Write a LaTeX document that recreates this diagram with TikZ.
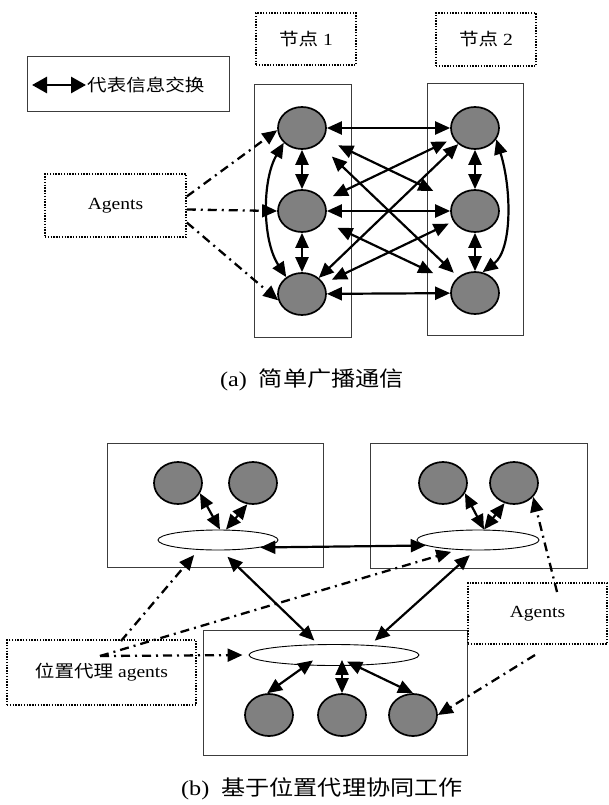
\documentclass[tikz,border=0pt]{standalone}
\usepackage{fontspec}
\setmainfont{Liberation Serif}[FakeStretch=1.15]
\newfontfamily\cjk{Noto Sans CJK SC}[FakeStretch=1.15]
\usetikzlibrary{arrows.meta,shapes.geometric,calc}
\definecolor{agentgray}{RGB}{128,128,128}
\definecolor{boxline}{RGB}{60,60,60}
\tikzset{
  bigtip/.tip={Triangle[length=15pt,width=13pt]},
  dbl/.style={bigtip-bigtip, line width=2.2pt},
  legarrow/.style={{Triangle[length=15pt,width=16pt]}-{Triangle[length=15pt,width=16pt]}, line width=2.8pt},
  agarrow/.style={-bigtip, line width=2.3pt, dash pattern=on 9pt off 5pt on 2pt off 5pt},
  dotbox/.style={draw, line width=1.5pt, dash pattern=on 1.4pt off 1.4pt, inner sep=0},
  plainbox/.style={draw=boxline, line width=0.9pt, inner sep=0},
  agent/.style={ellipse, draw, line width=1.7pt, fill=agentgray, minimum width=48pt, minimum height=42pt, inner sep=0},
  hub/.style={ellipse, draw, line width=0.9pt, fill=white, inner sep=0},
  lbl/.style={font=\fontsize{17}{20}\selectfont},
  captext/.style={font=\fontsize{21}{24}\selectfont, inner sep=0},
}
\begin{document}
\begin{tikzpicture}[x=1pt,y=-1pt]
\useasboundingbox[fill=white] (0,0) rectangle (608,805);

% ---------------- (a) ----------------
\node[dotbox, lbl, minimum width=100pt, minimum height=52pt] (lab1) at (306,39) {{\cjk 节点} 1};
\node[dotbox, lbl, minimum width=100pt, minimum height=53pt] (lab2) at (486,39.5) {{\cjk 节点} 2};

\node[plainbox, minimum width=202pt, minimum height=55pt] (legend) at (128,83.5) {};
\coordinate (legA) at (32,85);
\coordinate (legB) at (86,85);
\draw[legarrow] (legA) -- (legB);
\node[lbl, anchor=west, inner sep=0] (legtxt) at (87,85) {\cjk 代表信息交换};

\node[plainbox, minimum width=97pt, minimum height=253pt] (n1) at (302.5,210.5) {};
\node[plainbox, minimum width=96pt, minimum height=252pt] (n2) at (475,209) {};

\node[agent] (l1) at (302,128) {};
\node[agent] (l2) at (302,211) {};
\node[agent] (l3) at (302,294) {};
\node[agent] (r1) at (475,128) {};
\node[agent] (r2) at (475,211) {};
\node[agent] (r3) at (475,293) {};

\node[dotbox, lbl, minimum width=141pt, minimum height=63pt] (ag1) at (115.5,205.5) {Agents};

\draw[agarrow] ([yshift=9pt]ag1.east) -- (l1.185);
\draw[agarrow] ([yshift=-4pt]ag1.east) -- (l2.west);
\draw[agarrow] ([yshift=-17pt]ag1.east) -- (l3.195);

\draw[dbl] (l1) -- (r1);
\draw[dbl] (l2) -- (r2);
\draw[dbl] (l3) -- (r3);
\draw[dbl] (l1) -- (l2);
\draw[dbl] (l2) -- (l3);
\draw[dbl] (r1) -- (r2);
\draw[dbl] (r2) -- (r3);
\draw[dbl, shorten <=16pt, shorten >=22pt] (l1) -- (r2);
\draw[dbl, shorten <=18pt, shorten >=6pt] (l1) -- (r3);
\draw[dbl, shorten <=10pt, shorten >=7pt] (l2) -- (r1);
\draw[dbl, shorten <=15pt, shorten >=22pt] (l2) -- (r3);
\draw[dbl] (l3) -- (r1);
\draw[dbl, shorten <=9pt, shorten >=5pt] (l3) -- (r2);
\draw[dbl] (l1.219) .. controls (262,180) and (262,240) .. (l3.133);
\draw[dbl] (r1.-28) .. controls (512,190) and (512,250) .. (r3.70);

\node[captext] (capa) at (312,380) {(a)\hspace{12pt}{\cjk 简单广播通信}};

% ---------------- (b) ----------------
\node[plainbox, minimum width=216pt, minimum height=124pt] (g1) at (215,505) {};
\node[plainbox, minimum width=217pt, minimum height=125pt] (g2) at (478.5,505.5) {};
\node[plainbox, minimum width=264pt, minimum height=125pt] (g3) at (335,692.5) {};

\node[hub, minimum width=120pt, minimum height=20pt] (e1) at (218,540) {};
\node[hub, minimum width=122pt, minimum height=20pt] (e2) at (478,540) {};
\node[hub, minimum width=170pt, minimum height=21pt] (e3) at (334,655) {};

\node[agent] (a1) at (178,483) {};
\node[agent] (a2) at (253,483) {};
\node[agent] (c1) at (443,483) {};
\node[agent] (c2) at (514,483) {};
\node[agent] (b1) at (269,715) {};
\node[agent] (b2) at (342,715) {};
\node[agent] (b3) at (413,715) {};

\node[dotbox, lbl, minimum width=189pt, minimum height=65pt] (pab) at (101.5,672.5) {{\cjk 位置代理} agents};
\node[dotbox, lbl, minimum width=139pt, minimum height=61pt] (agb) at (537.5,613.5) {Agents};

\draw[dbl] (a1.-25) -- ([xshift=2pt]e1.north);
\draw[dbl] (a2.-105) -- ([xshift=8pt]e1.north);
\draw[dbl] (c1.-25) -- ([xshift=6pt]e2.north);
\draw[dbl] (c2.-115) -- ([xshift=6pt]e2.north);
\draw[dbl] (e1.-10) -- (e2.-174);
\draw[dbl, shorten <=9pt, shorten >=5pt] ([xshift=3pt]e1.south) -- ([xshift=-16pt]e3.north);
\draw[dbl, shorten <=7pt, shorten >=5pt] ([xshift=-3pt]e2.south) -- ([xshift=37pt]e3.north);
\draw[dbl] ([shift={(-21,-5.5)}]e3.south) -- (b1.95);
\draw[dbl] ([shift={(8,-6)}]e3.south) -- (b2.north);
\draw[dbl] ([shift={(13,-4.5)}]e3.south) -- (b3.north);

\coordinate (pa) at (100,656);
\coordinate (pa1) at (121,641);
\coordinate (ags1) at (557,592);
\coordinate (ags2) at (535,655);
\draw[agarrow, shorten >=6pt] (pa1) -- ([xshift=-20pt]e1.south);
\draw[agarrow, shorten >=5pt] (pa) -- ([xshift=-22pt]e2.south);
\draw[agarrow, shorten >=6pt] (pa) -- (e3.west);
\draw[agarrow] (ags1) -- (c2.-36);
\draw[agarrow] (ags2) -- (b3.east);

\node[captext] (capb) at (322,789) {(b)\hspace{12pt}{\cjk 基于位置代理协同工作}};
\end{tikzpicture}
\end{document}
